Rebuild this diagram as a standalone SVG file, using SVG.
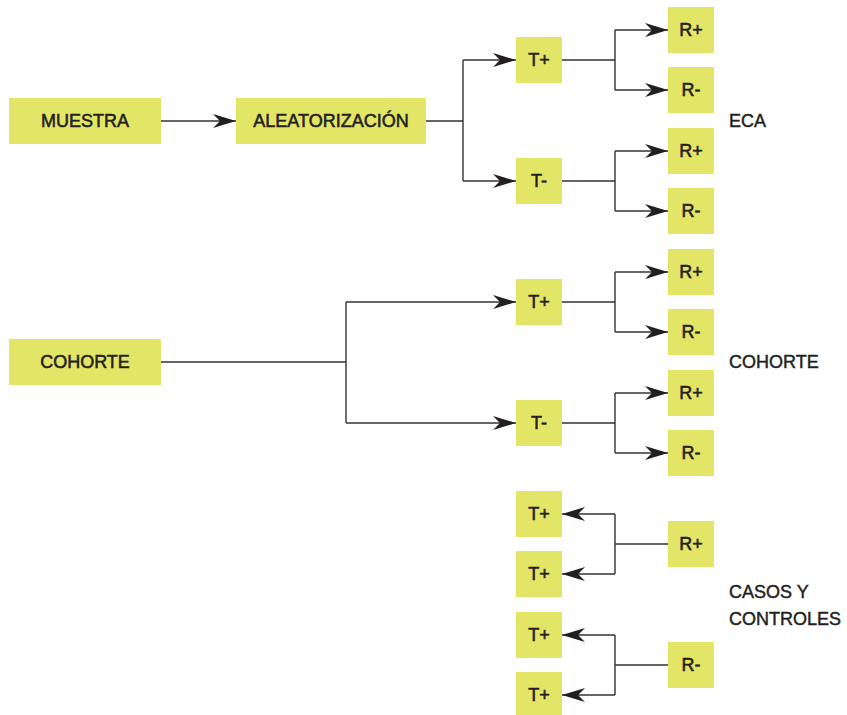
<svg xmlns="http://www.w3.org/2000/svg" width="847" height="715" viewBox="0 0 847 715">
<style>
.box{fill:#e3e566}
.t{font-family:"Liberation Sans",Arial,sans-serif;font-size:18px;fill:#231f20;stroke:#231f20;stroke-width:0.55;text-anchor:middle}
.lbl{font-family:"Liberation Sans",Arial,sans-serif;font-size:18px;fill:#231f20;stroke:#231f20;stroke-width:0.45}
.c{fill:none;stroke:#333;stroke-width:1.4}
.a{marker-end:url(#arr)}
</style>
<defs>
<marker id="arr" markerUnits="userSpaceOnUse" viewBox="-23 -7 23 14" refX="0" refY="0" markerWidth="23" markerHeight="14" orient="auto">
<path d="M0,0 L-23,-7 L-16,0 L-23,7 Z" fill="#231f20"/>
</marker>
</defs>
<rect width="847" height="715" fill="#fff"/>
<g id="connectors">
<path class="c a" d="M161,121 H236"/>
<path class="c" d="M426,121 H463 M463,60 V181"/>
<path class="c a" d="M463,60 H516"/>
<path class="c a" d="M463,181 H516"/>
<path class="c" d="M562,60 H615 M615,30 V90"/>
<path class="c a" d="M615,30 H668"/>
<path class="c a" d="M615,90 H668"/>
<path class="c" d="M562,181 H615 M615,151 V211"/>
<path class="c a" d="M615,151 H668"/>
<path class="c a" d="M615,211 H668"/>
<path class="c" d="M161,362 H346 M346,302 V423"/>
<path class="c a" d="M346,302 H516"/>
<path class="c a" d="M346,423 H516"/>
<path class="c" d="M562,302 H615 M615,272 V332"/>
<path class="c a" d="M615,272 H668"/>
<path class="c a" d="M615,332 H668"/>
<path class="c" d="M562,423 H615 M615,393 V453"/>
<path class="c a" d="M615,393 H668"/>
<path class="c a" d="M615,453 H668"/>
<path class="c" d="M668,544 H615 M615,514 V574"/>
<path class="c a" d="M615,514 H562"/>
<path class="c a" d="M615,574 H562"/>
<path class="c" d="M668,665 H615 M615,635 V695"/>
<path class="c a" d="M615,635 H562"/>
<path class="c a" d="M615,695 H562"/>
</g>
<g id="muestra"><rect class="box" x="9" y="98" width="152" height="46"/><text class="t" x="85" y="127">MUESTRA</text></g>
<g id="aleatorizacion"><rect class="box" x="236" y="98" width="190" height="46"/><text class="t" x="331" y="127">ALEATORIZACIÓN</text></g>
<g id="eca-tpos"><rect class="box" x="516" y="37" width="46" height="46"/><text class="t" x="539" y="66">T+</text></g>
<g id="eca-tneg"><rect class="box" x="516" y="158" width="46" height="46"/><text class="t" x="539" y="187">T-</text></g>
<g id="eca-r1"><rect class="box" x="668" y="7" width="46" height="46"/><text class="t" x="691" y="36">R+</text></g>
<g id="eca-r2"><rect class="box" x="668" y="67" width="46" height="46"/><text class="t" x="691" y="96">R-</text></g>
<g id="eca-r3"><rect class="box" x="668" y="128" width="46" height="46"/><text class="t" x="691" y="157">R+</text></g>
<g id="eca-r4"><rect class="box" x="668" y="188" width="46" height="46"/><text class="t" x="691" y="217">R-</text></g>
<g id="eca-label"><text class="lbl" x="729" y="127">ECA</text></g>
<g id="cohorte"><rect class="box" x="9" y="339" width="152" height="46"/><text class="t" x="85" y="368">COHORTE</text></g>
<g id="coh-tpos"><rect class="box" x="516" y="279" width="46" height="46"/><text class="t" x="539" y="308">T+</text></g>
<g id="coh-tneg"><rect class="box" x="516" y="400" width="46" height="46"/><text class="t" x="539" y="429">T-</text></g>
<g id="coh-r1"><rect class="box" x="668" y="249" width="46" height="46"/><text class="t" x="691" y="278">R+</text></g>
<g id="coh-r2"><rect class="box" x="668" y="309" width="46" height="46"/><text class="t" x="691" y="338">R-</text></g>
<g id="coh-r3"><rect class="box" x="668" y="370" width="46" height="46"/><text class="t" x="691" y="399">R+</text></g>
<g id="coh-r4"><rect class="box" x="668" y="430" width="46" height="46"/><text class="t" x="691" y="459">R-</text></g>
<g id="cohorte-label"><text class="lbl" x="729" y="368">COHORTE</text></g>
<g id="cc-t1"><rect class="box" x="516" y="491" width="46" height="46"/><text class="t" x="539" y="520">T+</text></g>
<g id="cc-t2"><rect class="box" x="516" y="551" width="46" height="46"/><text class="t" x="539" y="580">T+</text></g>
<g id="cc-t3"><rect class="box" x="516" y="612" width="46" height="46"/><text class="t" x="539" y="641">T+</text></g>
<g id="cc-t4"><rect class="box" x="516" y="672" width="46" height="46"/><text class="t" x="539" y="701">T+</text></g>
<g id="cc-rpos"><rect class="box" x="668" y="521" width="46" height="46"/><text class="t" x="691" y="550">R+</text></g>
<g id="cc-rneg"><rect class="box" x="668" y="642" width="46" height="46"/><text class="t" x="691" y="671">R-</text></g>
<g id="cc-label"><text class="lbl" x="729" y="598">CASOS Y</text><text class="lbl" x="729" y="625">CONTROLES</text></g>
</svg>
